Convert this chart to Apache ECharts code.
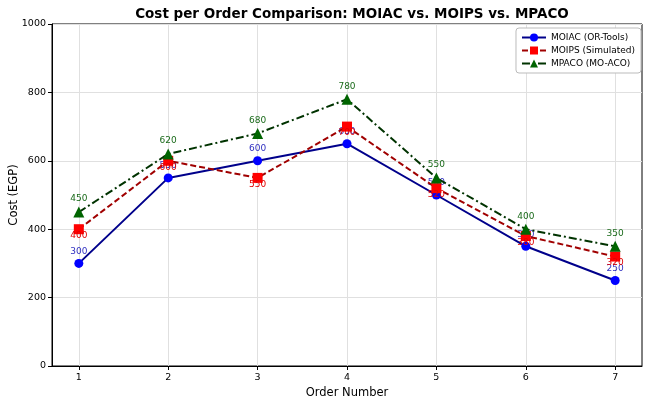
<!DOCTYPE html>
<html><head><meta charset="utf-8">
<script src="https://cdn.jsdelivr.net/npm/echarts@6/dist/echarts.min.js"></script>
<style>html,body{margin:0;padding:0;background:#fff}#c{width:649px;height:398px}</style>
</head><body><div id="c"></div>
<script>
const orders = [1, 2, 3, 4, 5, 6, 7];
const moiac = [300, 550, 600, 650, 500, 350, 250];
const moips = [400, 600, 550, 700, 520, 380, 320];
const mpaco = [450, 620, 680, 780, 550, 400, 350];
const yTicks = [0, 200, 400, 600, 800, 1000];
const seriesNames = ['MOIAC (OR-Tools)', 'MOIPS (Simulated)', 'MPACO (MO-ACO)'];

const pair = arr => orders.map((o, i) => [o, arr[i]]);
const font = 'DejaVu Sans';
const chart = echarts.init(document.getElementById('c'), null, {renderer: 'canvas'});
chart.setOption({
  animation: false,
  backgroundColor: '#fff',
  textStyle: {fontFamily: font},
  title: {
    text: 'Cost per Order Comparison: MOIAC vs. MOIPS vs. MPACO',
    left: 347, top: 2, textAlign: 'center',
    textStyle: {fontFamily: font, fontSize: 13.5, fontWeight: 'bold', color: '#000'}
  },
  grid: {left: 52, right: 7, top: 24, bottom: 32, outerBoundsMode: 'none', containLabel: false,
         show: true, borderColor: '#000', borderWidth: 1, backgroundColor: 'transparent'},
  legend: {
    orient: 'vertical', right: 8, top: 28,
    itemWidth: 24, itemHeight: 10, itemGap: 4,
    backgroundColor: '#fff', borderColor: '#bbb', borderWidth: 1, borderRadius: 3,
    padding: [5, 6, 5, 5],
    textStyle: {fontFamily: font, fontSize: 9, color: '#000'},
    data: seriesNames
  },
  xAxis: {
    type: 'value', min: 0.7, max: 7.3,
    name: 'Order Number', nameLocation: 'middle', nameGap: 21, nameMoveOverlap: false,
    nameTextStyle: {fontFamily: font, fontSize: 11.5, color: '#000'},
    axisLine: {show: true, lineStyle: {color: '#000'}},
    axisTick: {show: true, customValues: orders, length: 4, lineStyle: {color: '#000'}},
    axisLabel: {customValues: orders, fontSize: 9.5, color: '#000', margin: 7, fontFamily: font},
    splitLine: {show: true, lineStyle: {color: '#e0e0e0'}}
  },
  yAxis: {
    type: 'value', min: 0, max: 1000, interval: 200,
    name: 'Cost (EGP)', nameLocation: 'middle', nameGap: 32, nameMoveOverlap: false,
    nameTextStyle: {fontFamily: font, fontSize: 11.5, color: '#000'},
    axisLine: {show: true, lineStyle: {color: '#000'}},
    axisTick: {show: true, length: 4, lineStyle: {color: '#000'}},
    axisLabel: {fontSize: 9.5, color: '#000', margin: 6, fontFamily: font, formatter: v => String(v)},
    splitLine: {show: true, lineStyle: {color: '#e0e0e0'}}
  },
  series: [
    {
      name: seriesNames[0], type: 'line', data: pair(moiac),
      symbol: 'circle', symbolSize: 9,
      itemStyle: {color: '#0000ff'},
      lineStyle: {color: '#00008b', width: 2, type: 'solid'},
      label: {show: true, position: 'top', distance: 3, fontSize: 9, color: '#3030c0', fontFamily: font, formatter: p => p.value[1]},
      z: 3
    },
    {
      name: seriesNames[1], type: 'line', data: pair(moips),
      symbol: 'rect', symbolSize: 10,
      itemStyle: {color: '#ff0000'},
      lineStyle: {color: '#a00000', width: 2, type: [6, 3]},
      label: {show: true, position: 'bottom', distance: -3, fontSize: 9, color: '#e00000', fontFamily: font, formatter: p => p.value[1]},
      z: 4
    },
    {
      name: seriesNames[2], type: 'line', data: pair(mpaco),
      symbol: 'triangle', symbolSize: 11,
      itemStyle: {color: '#006400'},
      lineStyle: {color: '#003300', width: 2, type: [8, 3, 2, 3]},
      label: {show: true, position: 'top', distance: 3, fontSize: 9, color: '#1a6a1a', fontFamily: font, formatter: p => p.value[1]},
      z: 5
    }
  ]
});
</script></body></html>
